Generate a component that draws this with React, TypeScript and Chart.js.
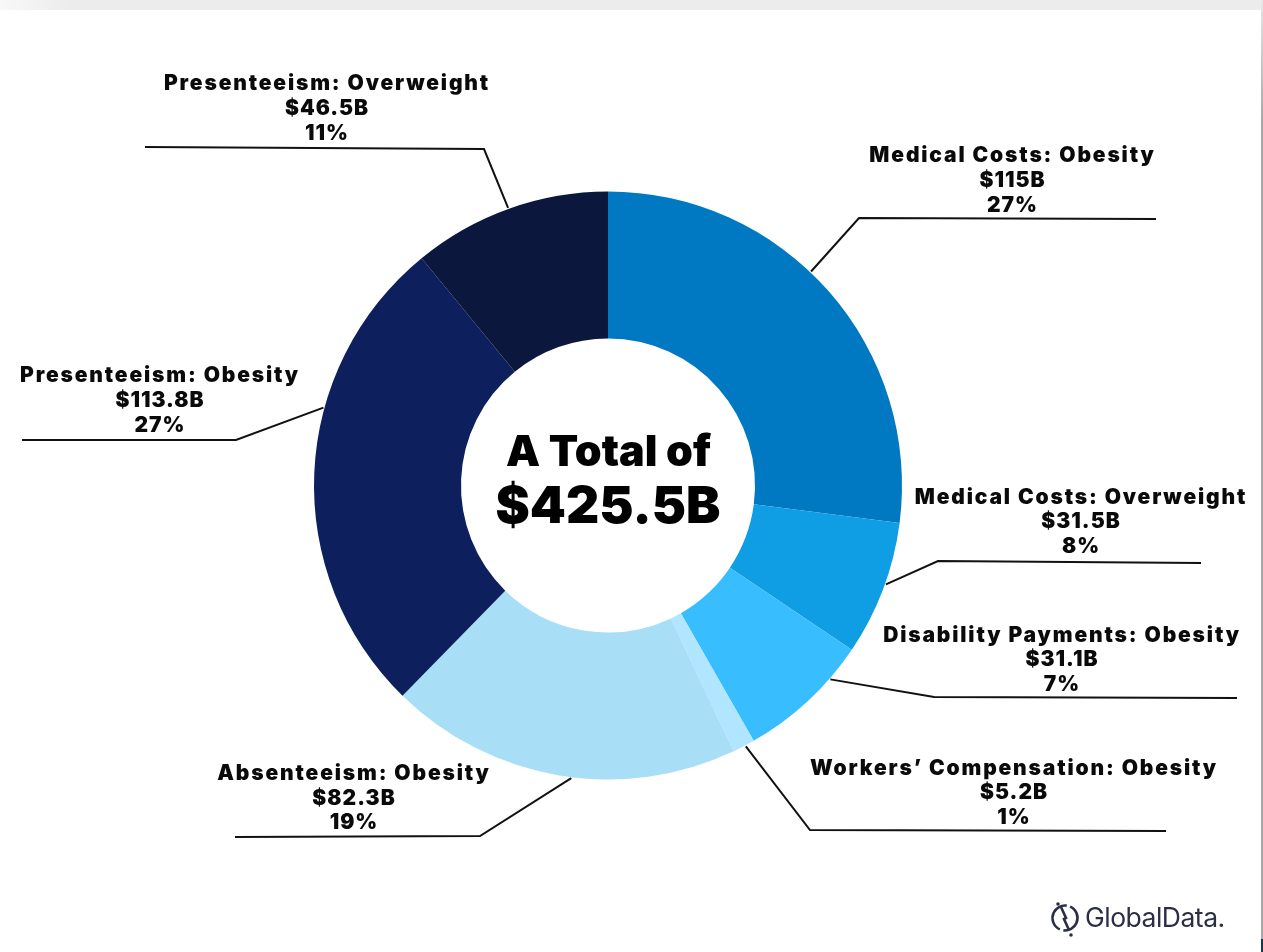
import React, { useEffect, useRef } from "react";
import { Chart, registerables } from "chart.js";

Chart.register(...registerables);

const categories = [
  "Medical Costs: Obesity",
  "Medical Costs: Overweight",
  "Disability Payments: Obesity",
  "Workers’ Compensation: Obesity",
  "Absenteeism: Obesity",
  "Presenteeism: Obesity",
  "Presenteeism: Overweight",
];
const costs = [115, 31.5, 31.1, 5.2, 82.3, 113.8, 46.5];
const costLabels = ["$115B", "$31.5B", "$31.1B", "$5.2B", "$82.3B", "$113.8B", "$46.5B"];
const shareLabels = ["27%", "8%", "7%", "1%", "19%", "27%", "11%"];
const sliceColors = ["#0079C2", "#0F9DE3", "#38BEFF", "#B0E6FF", "#A8DFF6", "#0D1F5C", "#0C173D"];
const centerLines = ["A Total of", "$425.5B"];
const brand = "GlobalData.";

// Layout of the annotations (label centre x, and the y of its three lines).
const labelX = [1012.5, 1081, 1062, 1014, 354, 160, 327];
const labelY = [
  [156, 181, 206],
  [498, 522, 547],
  [636, 660, 685],
  [769, 793, 818],
  [774, 799, 823],
  [376, 401, 426],
  [84, 109, 134],
];
// Leader lines: where along the slice's arc they start, then elbow and end.
const leaderAlong = [0.447, 0.46, 0.27, 0.42, 0.466, 0.633, 0.497];
const leaderPath = [
  [[859, 218], [1156, 219]],
  [[938, 561], [1201, 563]],
  [[934, 697], [1237, 698]],
  [[810, 830], [1166, 831]],
  [[480, 836], [235, 837]],
  [[236, 440], [22, 440]],
  [[484, 149], [145, 147]],
];

const FONT = '"Inter", "Liberation Sans", sans-serif';

const backdrop = {
  id: "backdrop",
  beforeDraw(chart: any) {
    const { ctx, width, height } = chart;
    ctx.save();
    ctx.fillStyle = "#ffffff";
    ctx.fillRect(0, 0, width, height);
    const top = ctx.createLinearGradient(0, 0, 70, 0);
    top.addColorStop(0, "#f8f8f8");
    top.addColorStop(1, "#ececec");
    ctx.fillStyle = top;
    ctx.fillRect(0, 0, width, 10);
    const side = ctx.createLinearGradient(0, 0, 0, 120);
    side.addColorStop(0, "#e8e8e8");
    side.addColorStop(1, "#a8a8a8");
    ctx.fillStyle = side;
    ctx.fillRect(width - 2, 0, 2, 939);
    ctx.fillStyle = "#17394a";
    ctx.fillRect(width - 2, 939, 2, height - 939);
    ctx.restore();
  },
};

const annotations = {
  id: "annotations",
  afterDatasetsDraw(chart: any) {
    const { ctx } = chart;
    const arcs = chart.getDatasetMeta(0).data;
    ctx.save();
    ctx.strokeStyle = "#111111";
    ctx.lineWidth = 2;
    ctx.lineJoin = "miter";
    arcs.forEach((arc: any, i: number) => {
      const a = arc.startAngle + (arc.endAngle - arc.startAngle) * leaderAlong[i];
      const r = arc.outerRadius + 1;
      ctx.beginPath();
      ctx.moveTo(arc.x + r * Math.cos(a), arc.y + r * Math.sin(a));
      leaderPath[i].forEach(([x, y]) => ctx.lineTo(x, y));
      ctx.stroke();
    });

    ctx.fillStyle = "#0a0a0a";
    ctx.textAlign = "center";
    ctx.textBaseline = "middle";
    ctx.font = `900 21px ${FONT}`;
    categories.forEach((name, i) => {
      ctx.letterSpacing = "1.85px";
      ctx.fillText(name, labelX[i], labelY[i][0]);
      ctx.letterSpacing = "1px";
      ctx.fillText(costLabels[i], labelX[i], labelY[i][1]);
      ctx.fillText(shareLabels[i], labelX[i], labelY[i][2]);
    });

    ctx.fillStyle = "#000000";
    ctx.letterSpacing = "0px";
    ctx.font = `900 43px ${FONT}`;
    ctx.fillText(centerLines[0], 608.5, 453);
    ctx.font = `900 51.5px ${FONT}`;
    ctx.fillText(centerLines[1], 608, 508);

    // Brand mark
    ctx.strokeStyle = "#2c2e45";
    ctx.fillStyle = "#2c2e45";
    ctx.lineWidth = 2.6;
    ctx.beginPath();
    ctx.arc(1065, 918, 12.5, -1.15, 1.7);
    ctx.stroke();
    ctx.beginPath();
    ctx.arc(1065, 918, 12.5, 2.0, 4.85);
    ctx.stroke();
    ctx.beginPath();
    ctx.moveTo(1061, 907);
    ctx.lineTo(1066, 918);
    ctx.lineTo(1064, 919);
    ctx.lineTo(1069, 930);
    ctx.stroke();
    ctx.beginPath();
    ctx.arc(1058, 904, 1.8, 0, Math.PI * 2);
    ctx.arc(1071, 935, 1.8, 0, Math.PI * 2);
    ctx.fill();
    ctx.textAlign = "left";
    ctx.font = `400 26.5px ${FONT}`;
    ctx.letterSpacing = "-0.5px";
    ctx.fillText(brand, 1085, 919);
    ctx.restore();
  },
};

export default function App() {
  const ref = useRef<HTMLCanvasElement>(null);
  useEffect(() => {
    const chart = new Chart(ref.current!, {
      type: "doughnut",
      data: {
        labels: categories,
        datasets: [
          {
            data: costs,
            backgroundColor: sliceColors,
            borderWidth: 0,
          },
        ],
      },
      options: {
        animation: false,
        responsive: false,
        cutout: "50%",
        layout: { padding: { left: 314, top: 191.5, right: 361, bottom: 172.5 } },
        plugins: { legend: { display: false }, tooltip: { enabled: false } },
      },
      plugins: [backdrop, annotations],
    } as any);
    return () => chart.destroy();
  }, []);
  return (
    <canvas
      ref={ref}
      width={1263}
      height={952}
      style={{ position: "absolute", left: 0, top: 0, display: "block" }}
    />
  );
}
